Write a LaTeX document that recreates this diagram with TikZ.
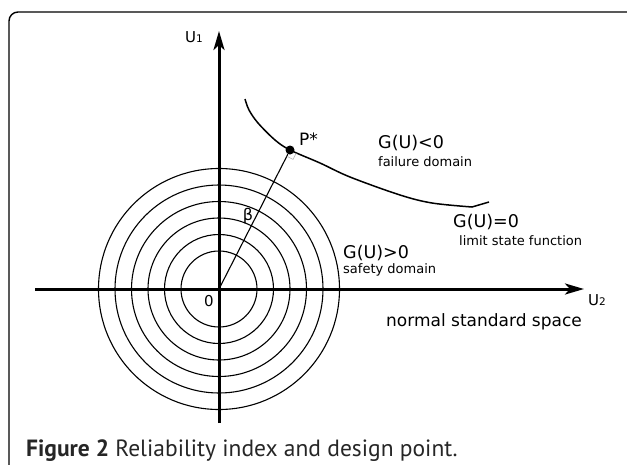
\documentclass[tikz,border=0pt]{standalone}
\usepackage{fontspec}
\setmainfont{DejaVu Sans}
\newfontfamily\capfont{PT Sans}
\usetikzlibrary{arrows.meta}
\tikzset{
  axis/.style={line width=3pt,-{Stealth[length=19pt,width=11pt,inset=5pt]}},
  ring/.style={line width=1.1pt},
  biglbl/.style={anchor=west,inner sep=0pt,font=\fontsize{17.5}{19}\selectfont},
  smalllbl/.style={anchor=west,inner sep=0pt,font=\fontsize{13}{15}\selectfont},
}
\begin{document}
\begin{tikzpicture}[x=1pt,y=-1pt]
\clip (0,0) rectangle (627,464);
\fill[white] (0,0) rectangle (627,464);
% frame
\draw[line width=1.4pt,rounded corners=9pt] (9,12) rectangle (640,490);
% origin and rings
\coordinate (O) at (219,289);
\foreach \r in {38,54.5,71,87.5,104,120.5}{\draw[ring] (O) circle[radius=\r];}
% axes
\coordinate (xs) at (35,289);
\coordinate (xe) at (584,289);
\coordinate (ys) at (219,423);
\coordinate (ye) at (219,31);
\draw[axis] (xs) -- (xe);
\draw[axis] (ys) -- (ye);
% limit state curve
\node[circle,fill,inner sep=0pt,minimum size=9pt] (P) at (290,150) {};
\draw[line width=1.5pt] plot[smooth,tension=0.55] coordinates {(245,99) (249,110) (258,123) (275,140) (290,150) (320,163) (350,177) (400,195) (432,203) (472,207)} -- (489,202);
% beta line
\draw[line width=1.1pt] (O) -- (P);
% right angle marker
\draw[gray!60,line width=0.6pt] (286.8,156.2) -- (293,159.4) -- (296.2,153.2);
% labels
\node[anchor=west,inner sep=0pt,font=\fontsize{17}{19}\selectfont] (pl) at (299,139) {P*};
\node[anchor=center,inner sep=0pt,font=\fontsize{16}{18}\selectfont] (beta) at (248,216) {β};
\node[anchor=center,inner sep=0pt,font=\fontsize{15}{17}\selectfont] (zero) at (209,301) {0};
\node[anchor=west,inner sep=0pt,font=\fontsize{15}{17}\selectfont] (u1) at (185,37) {U\raisebox{0pt}{\fontsize{10.5}{11}\selectfont 1}};
\node[anchor=west,inner sep=0pt,font=\fontsize{15}{17}\selectfont] (u2) at (588,300) {U\raisebox{0pt}{\fontsize{10.5}{11}\selectfont 2}};
\node[biglbl] (gneg) at (378,143) {G(U)<0};
\node[smalllbl] (fd) at (378,162) {failure domain};
\node[biglbl] (gzero) at (453,222) {G(U)=0};
\node[smalllbl] (lsf) at (459,241) {limit state function};
\node[biglbl] (gpos) at (343,253) {G(U)>0};
\node[smalllbl] (sd) at (343,270) {safety domain};
\node[anchor=west,inner sep=0pt,font=\fontsize{17}{19}\selectfont] (nss) at (386,322) {normal standard space};
\node[anchor=base west,inner sep=0pt,font=\capfont\fontsize{23.5}{25}\selectfont,text=black!85] (cap) at (26,456) {\textbf{Figure 2} Reliability index and design point.};
\end{tikzpicture}
\end{document}
